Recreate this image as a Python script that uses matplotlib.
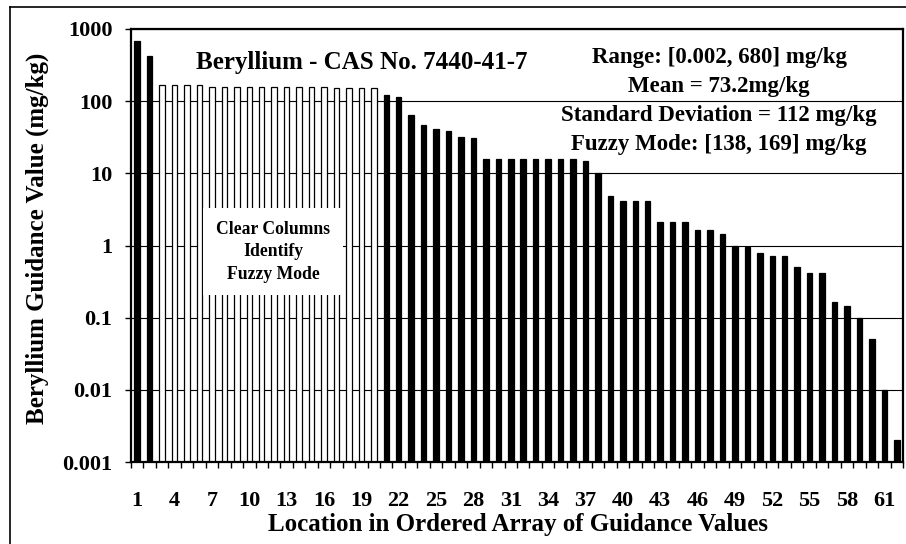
import matplotlib
matplotlib.use("Agg")
import matplotlib.pyplot as plt
from matplotlib.lines import Line2D
from matplotlib.patches import Rectangle
import numpy as np

# ordered guidance values (mg/kg), location 1..62
values = [680, 420,
          165, 165, 165, 165, 158, 158, 158, 158, 158, 158, 158, 158, 158, 158, 152, 150, 150, 152,
          122, 113, 64, 47, 41, 39, 32, 31,
          16, 16, 16, 16, 16, 16, 15.6, 15.6, 14.7, 10,
          4.85, 4.1, 4.1, 4.1, 2.1, 2.1, 2.1, 1.66, 1.66, 1.43,
          1.0, 0.94, 0.79, 0.72, 0.72, 0.5, 0.41, 0.41,
          0.165, 0.147, 0.1, 0.05, 0.01, 0.002]
fuzzy_start, fuzzy_end = 3, 20   # clear columns
title = "Beryllium - CAS No. 7440-41-7"
stats = ["Range: [0.002, 680] mg/kg", "Mean = 73.2mg/kg",
         "Standard Deviation = 112 mg/kg", "Fuzzy Mode: [138, 169] mg/kg"]
note = "Clear Columns\nIdentify\nFuzzy Mode"
yticks = [0.001, 0.01, 0.1, 1, 10, 100, 1000]
ytick_labels = ["0.001", "0.01", "0.1", "1", "10", "100", "1000"]

plt.rcParams['font.family'] = ['Liberation Serif', 'DejaVu Serif']
plt.rcParams['font.weight'] = 'bold'

W, H = 906, 544
fig = plt.figure(figsize=(W/100, H/100), dpi=100)
ax = fig.add_axes([131/W, 1-462/H, (903-131)/W, (462-29)/H])

loc = np.arange(1, len(values) + 1)
clear = (loc >= fuzzy_start) & (loc <= fuzzy_end)
colors = ['white' if c else 'black' for c in clear]
ax.bar(loc, values, width=0.44, color=colors, edgecolor='black', linewidth=0.9, zorder=2)

ax.set_yscale('log')
ax.set_ylim(0.001, 1000)
ax.set_xlim(0.5, len(values) + 0.5)
ax.set_yticks(yticks)
ax.set_yticklabels(ytick_labels)
ax.yaxis.set_minor_locator(matplotlib.ticker.NullLocator())
ax.set_xticks(loc[::3])
ax.set_xticklabels([str(v) for v in loc[::3]])
ax.set_xticks(np.arange(0.5, len(values) + 1, 1), minor=True)
ax.tick_params(axis='x', which='major', length=0, pad=21, labelsize=16)
ax.tick_params(axis='x', which='minor', length=4, width=1, direction='out')
ax.tick_params(axis='y', length=4, width=1, direction='out', labelsize=16, pad=9.5)

ax.grid(axis='y', which='major', color='black', linewidth=0.8)
ax.set_axisbelow(True)
for s in ax.spines.values():
    s.set_linewidth(1.6)

fig.text(37/W, 1-238/H, "Beryllium Guidance Value (mg/kg)", rotation=90,
         ha='center', va='center', fontsize=18, fontweight='bold')
fig.text(518/W, 1-525/H, "Location in Ordered Array of Guidance Values",
         ha='center', va='center', fontsize=18, fontweight='bold')

fig.text(362/W, 1-62/H, title, ha='center', va='center', fontsize=18, fontweight='bold')
for i, s in enumerate(stats):
    fig.text(719/W, 1-(57 + 29.3*i)/H, s, ha='center', va='center', fontsize=16.5, fontweight='bold')

# white box behind the note
fig.add_artist(Rectangle((203/W, 1-295/H), 140/W, 87/H, facecolor='white',
                         edgecolor='none', transform=fig.transFigure, zorder=4))
fig.text(273/W, 1-252/H, note, ha='center', va='center', fontsize=12.7, fontweight='bold',
         linespacing=1.42, zorder=5)

# outer chart border (top and left visible)
fig.add_artist(Line2D([10/W, 1.0], [1-7/H, 1-7/H], color='black', linewidth=1.2, transform=fig.transFigure))
fig.add_artist(Line2D([10/W, 10/W], [1-7/H, 0.0], color='black', linewidth=1.2, transform=fig.transFigure))

fig.savefig("out.png", dpi=100)
